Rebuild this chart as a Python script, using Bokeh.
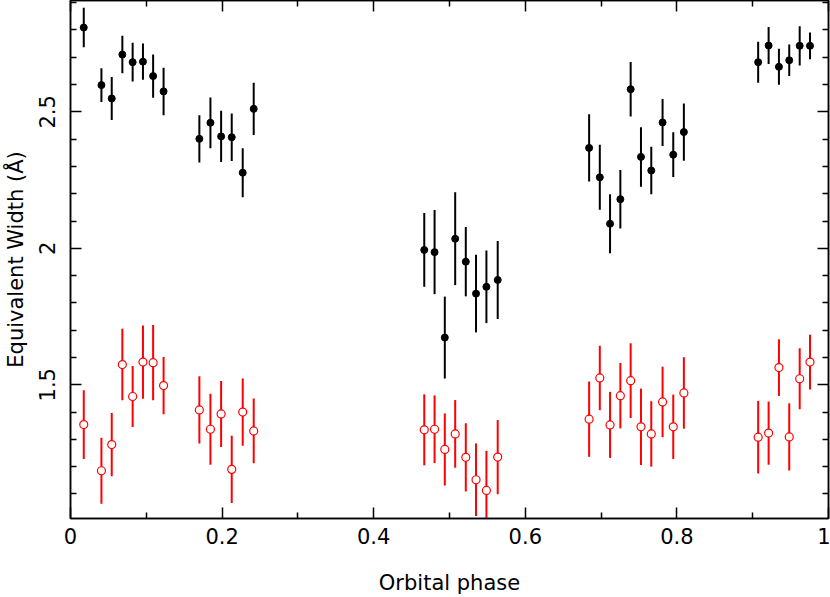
from bokeh.plotting import figure
from bokeh.models import LinearAxis, FixedTicker, ColumnDataSource
from bokeh.embed import file_html
from bokeh.resources import INLINE

# ---- data ----
phase = [0.0175, 0.0408, 0.0544, 0.0684, 0.0820, 0.0956, 0.1090, 0.1228,
         0.1700, 0.1846, 0.1987, 0.2127, 0.2272, 0.2417,
         0.4667, 0.4803, 0.4938, 0.5075, 0.5215, 0.5350, 0.5487, 0.5636,
         0.6842, 0.6983, 0.7118, 0.7254, 0.7390, 0.7526, 0.7662, 0.7811, 0.7952, 0.8092,
         0.9072, 0.9210, 0.9346, 0.9482, 0.9620, 0.9756]

ew_black = [2.809, 2.598, 2.549, 2.710, 2.682, 2.684, 2.631, 2.575,
            2.401, 2.460, 2.410, 2.407, 2.277, 2.511,
            1.994, 1.986, 1.673, 2.035, 1.951, 1.834, 1.859, 1.884,
            2.368, 2.260, 2.090, 2.180, 2.583, 2.335, 2.285, 2.461, 2.343, 2.426,
            2.682, 2.743, 2.665, 2.689, 2.742, 2.742]
err_black = [0.072, 0.062, 0.079, 0.069, 0.071, 0.066, 0.079, 0.087,
             0.087, 0.093, 0.094, 0.087, 0.090, 0.096,
             0.135, 0.154, 0.150, 0.170, 0.127, 0.142, 0.133, 0.143,
             0.123, 0.119, 0.108, 0.107, 0.100, 0.109, 0.087, 0.086, 0.082, 0.105,
             0.075, 0.068, 0.066, 0.058, 0.072, 0.049]

ew_red = [1.354, 1.185, 1.281, 1.574, 1.457, 1.583, 1.581, 1.497,
          1.408, 1.337, 1.393, 1.190, 1.400, 1.331,
          1.335, 1.337, 1.263, 1.320, 1.234, 1.152, 1.113, 1.235,
          1.374, 1.525, 1.353, 1.460, 1.515, 1.346, 1.320, 1.437, 1.346, 1.470,
          1.308, 1.323, 1.563, 1.309, 1.522, 1.583]
err_red = [0.126, 0.121, 0.116, 0.131, 0.112, 0.134, 0.138, 0.105,
           0.123, 0.130, 0.121, 0.123, 0.123, 0.119,
           0.130, 0.124, 0.132, 0.124, 0.125, 0.133, 0.145, 0.136,
           0.138, 0.118, 0.121, 0.120, 0.137, 0.140, 0.120, 0.129, 0.118, 0.131,
           0.133, 0.116, 0.104, 0.123, 0.112, 0.100]

x_ticks = [0, 0.2, 0.4, 0.6, 0.8, 1.0]
x_tick_labels = ["0", "0.2", "0.4", "0.6", "0.8", "1"]
x_minor = [0.1, 0.3, 0.5, 0.7, 0.9]
y_ticks = [1.5, 2.0, 2.5]
y_tick_labels = ["1.5", "2", "2.5"]
y_minor = [1.1, 1.2, 1.3, 1.4, 1.6, 1.7, 1.8, 1.9, 2.1, 2.2, 2.3, 2.4, 2.6, 2.7, 2.8, 2.9]

x_title = "Orbital phase"
y_title = "Equivalent Width (Å)"

FONT = "DejaVu Sans"
FSIZE = "21px"

src_b = ColumnDataSource(dict(x=phase, y=ew_black,
                              lo=[v - e for v, e in zip(ew_black, err_black)],
                              hi=[v + e for v, e in zip(ew_black, err_black)]))
src_r = ColumnDataSource(dict(x=phase, y=ew_red,
                              lo=[v - e for v, e in zip(ew_red, err_red)],
                              hi=[v + e for v, e in zip(ew_red, err_red)]))

p = figure(width=830, height=597, x_range=(0, 1), y_range=(1.01, 2.908),
           output_backend="svg", toolbar_location=None,
           min_border_left=68, min_border_right=2, min_border_top=0, min_border_bottom=79)
p.grid.visible = False
p.outline_line_color = "black"
p.outline_line_width = 1.5
p.background_fill_color = "white"
p.border_fill_color = "white"


def style_axis(ax, show_labels):
    ax.major_tick_in = 11
    ax.major_tick_out = 0
    ax.minor_tick_in = 6
    ax.minor_tick_out = 0
    ax.axis_line_color = "black"
    ax.axis_line_width = 1.5
    ax.major_tick_line_color = "black"
    ax.major_tick_line_width = 1.5
    ax.minor_tick_line_color = "black"
    ax.minor_tick_line_width = 1.5
    if show_labels:
        ax.major_label_text_font = FONT
        ax.major_label_text_font_size = FSIZE
        ax.major_label_text_color = "black"
        ax.axis_label_text_font = FONT
        ax.axis_label_text_font_size = FSIZE
        ax.axis_label_text_font_style = "normal"
        ax.axis_label_text_color = "black"
    else:
        ax.major_label_text_font_size = "0px"
        ax.major_label_text_color = None
        ax.major_label_standoff = 0
        ax.axis_label = None


xax = p.xaxis[0]
xax.ticker = FixedTicker(ticks=x_ticks, minor_ticks=x_minor)
xax.major_label_overrides = {t: l for t, l in zip(x_ticks, x_tick_labels)}
xax.axis_label = x_title
style_axis(xax, True)
xax.major_label_standoff = 9
xax.axis_label_standoff = 24

yax = p.yaxis[0]
yax.ticker = FixedTicker(ticks=y_ticks, minor_ticks=y_minor)
yax.major_label_overrides = {t: l for t, l in zip(y_ticks, y_tick_labels)}
yax.major_label_orientation = "vertical"
yax.axis_label = y_title
style_axis(yax, True)
yax.major_label_standoff = 15
yax.axis_label_standoff = 9

top = LinearAxis(ticker=FixedTicker(ticks=x_ticks, minor_ticks=x_minor))
style_axis(top, False)
p.add_layout(top, "above")
right = LinearAxis(ticker=FixedTicker(ticks=y_ticks, minor_ticks=y_minor))
style_axis(right, False)
p.add_layout(right, "right")

# red (open circles)
p.segment(x0="x", y0="lo", x1="x", y1="hi", source=src_r, line_color="#ff0000", line_width=2)
p.scatter(x="x", y="y", source=src_r, marker="circle", size=8,
          line_color="#ff0000", line_width=1.2, fill_color="white")

# black (filled circles)
p.segment(x0="x", y0="lo", x1="x", y1="hi", source=src_b, line_color="black", line_width=2)
p.scatter(x="x", y="y", source=src_b, marker="circle", size=7,
          line_color="black", fill_color="black")

open("out.html", "w").write(file_html(p, INLINE))
